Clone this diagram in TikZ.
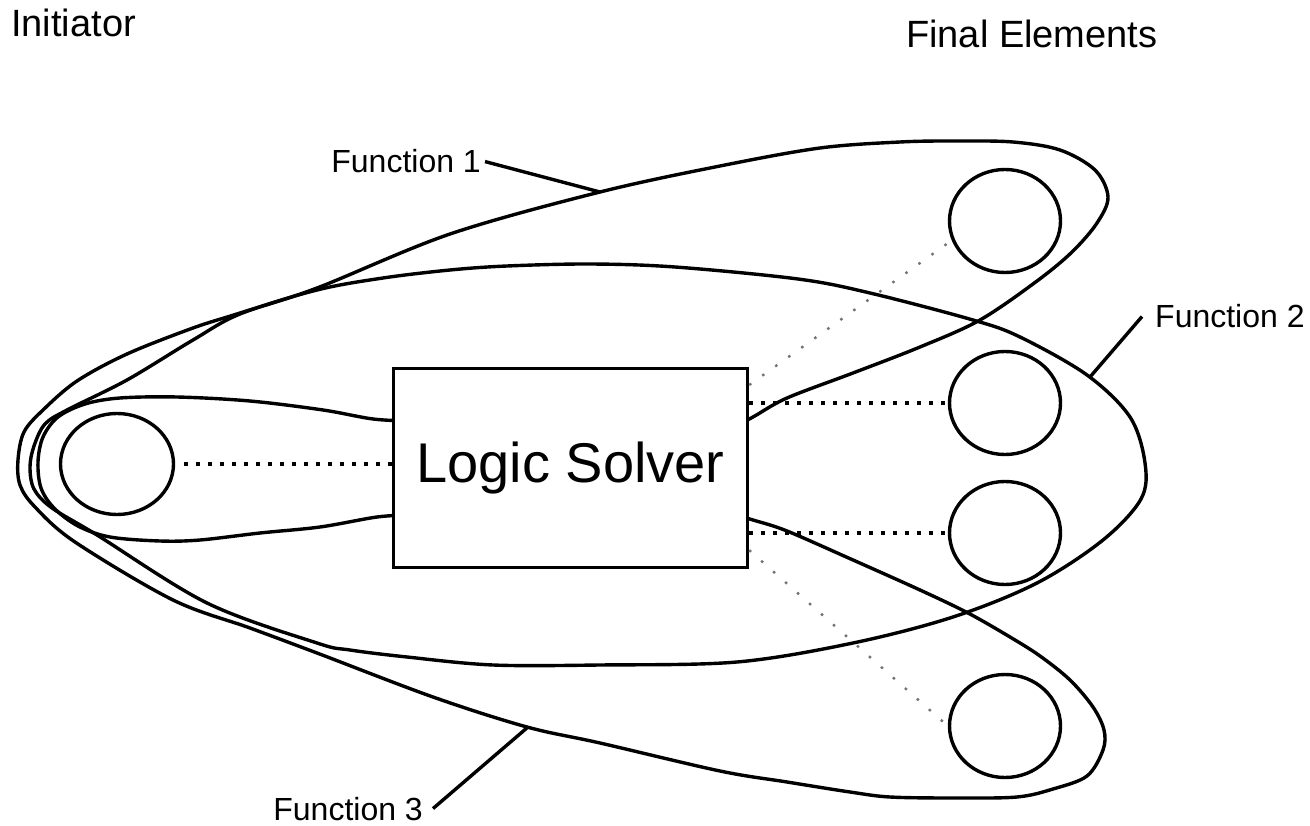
\documentclass[tikz,border=0pt]{standalone}
\usepackage{fontspec}
\setmainfont{Liberation Sans}
\usetikzlibrary{shapes.geometric,calc}
\begin{document}
\begin{tikzpicture}[x=1pt,y=-1pt,
  outline/.style={line width=3.4pt, line join=round},
  fe/.style={ellipse, draw, line width=3.4pt, minimum width=111pt, minimum height=103pt, inner sep=0pt},
  initbox/.style={ellipse, draw, line width=3.4pt, minimum width=113pt, minimum height=101pt, inner sep=0pt},
  solver/.style={draw, fill=white, line width=3.4pt, minimum width=354pt, minimum height=199pt, inner sep=0pt, font=\fontsize{56}{60}\selectfont},
  blackdot/.style={line width=3.4pt, dash pattern=on 4pt off 8pt},
  graydot/.style={line width=2.4pt, black!55, dash pattern=on 2.5pt off 13.5pt},
  lbl/.style={inner sep=0pt, font=\fontsize{32}{38}\selectfont},
  titletext/.style={inner sep=0pt, font=\fontsize{38}{46}\selectfont},
  leader/.style={line width=3.4pt}]
\useasboundingbox (0,0) rectangle (1310,826);

% Function 2 (closed outline)
\draw[outline] plot[smooth cycle, tension=0.55] coordinates {
 (30,467) (34,446) (45,424) (67,410) (127,380) (193,340) (240,314) (317,290)
 (383,278) (450,270) (507,266) (590,264) (675,267) (798,279)
 (870,293) (973,320) (1020,337) (1087,375) (1130,417) (1145,463) (1141,499)
 (1103,540) (1037,583) (953,617) (853,643) (737,662) (600,665) (493,665)
 (407,657) (350,650) (317,643) (207,603) (97,535) (52,508) (34,489)};

% Function 1 / Function 3 outline
\draw[outline] plot[smooth, tension=0.55] coordinates {
 (725,432) (753,417) (787,398) (853,373) (920,347) (980,320) (1037,281)
 (1072,252) (1097,223) (1108,197) (1095,170) (1060,150) (1013,142) (955,141)
 (900,142) (820,148) (720,166) (600,192) (450,234) (317,288) (240,313)
 (193,328) (127,354) (77,381) (43,410) (24,432) (18,460) (20,485) (35,507)
 (75,542) (173,600) (250,628) (317,653) (433,697) (527,727) (600,743)
 (720,771) (787,782) (850,792) (890,797) (955,798) (1017,797) (1053,789)
 (1087,776) (1103,750) (1104,730) (1093,707) (1070,680) (1040,656) (1010,637)
 (968,613) (920,590) (853,560) (787,531) (753,520) (725,512)};

% inner loop around the initiator
\draw[outline] plot[smooth, tension=0.55] coordinates {
 (410,421) (373,419) (323,410) (250,401) (177,397) (120,398) (85,404)
 (58,417) (43,437) (38,462) (41,488) (54,508) (78,526) (110,537) (160,541)
 (200,540) (260,533) (320,527) (377,517) (410,515)};

% nodes
\node[solver] (ls) at (570.5,468) {Logic Solver};
\node[initbox] (init) at (117,464) {};
\node[fe] (fe1) at (1005,221) {};
\node[fe] (fe2) at (1005,403) {};
\node[fe] (fe3) at (1005,533) {};
\node[fe] (fe4) at (1005,726) {};

% links
\draw[blackdot] ([xshift=9pt]init.east) -- (init.east -| ls.west);
\draw[blackdot] (ls.east |- fe2) -- (fe2.west);
\draw[blackdot] (ls.east |- fe3) -- (fe3.west);
\draw[graydot] ($(ls.north east)!0.09!(ls.south east)$) -- (fe1.200);
\draw[graydot] ($(ls.north east)!0.906!(ls.south east)$) -- (fe4.180);

% titles
\node[titletext, anchor=base west] (tinit) at (11,37) {Initiator};
\node[titletext, anchor=base west] (tfinal) at (906,48) {Final Elements};

% function labels and leaders
\node[lbl, anchor=base east] (f1) at (481,173) {Function 1};
\node[lbl, anchor=base west] (f2) at (1155,328) {Function 2};
\node[lbl, anchor=base east] (f3) at (423,820) {Function 3};
\coordinate (p1) at (600,192);
\coordinate (p2) at (1090,377);
\coordinate (p3) at (528,727);
\draw[leader] ([xshift=4pt]f1.east) -- (p1);
\draw[leader] ([xshift=-13pt]f2.west) -- (p2);
\draw[leader] ([xshift=10pt]f3.east) -- (p3);
\end{tikzpicture}
\end{document}
